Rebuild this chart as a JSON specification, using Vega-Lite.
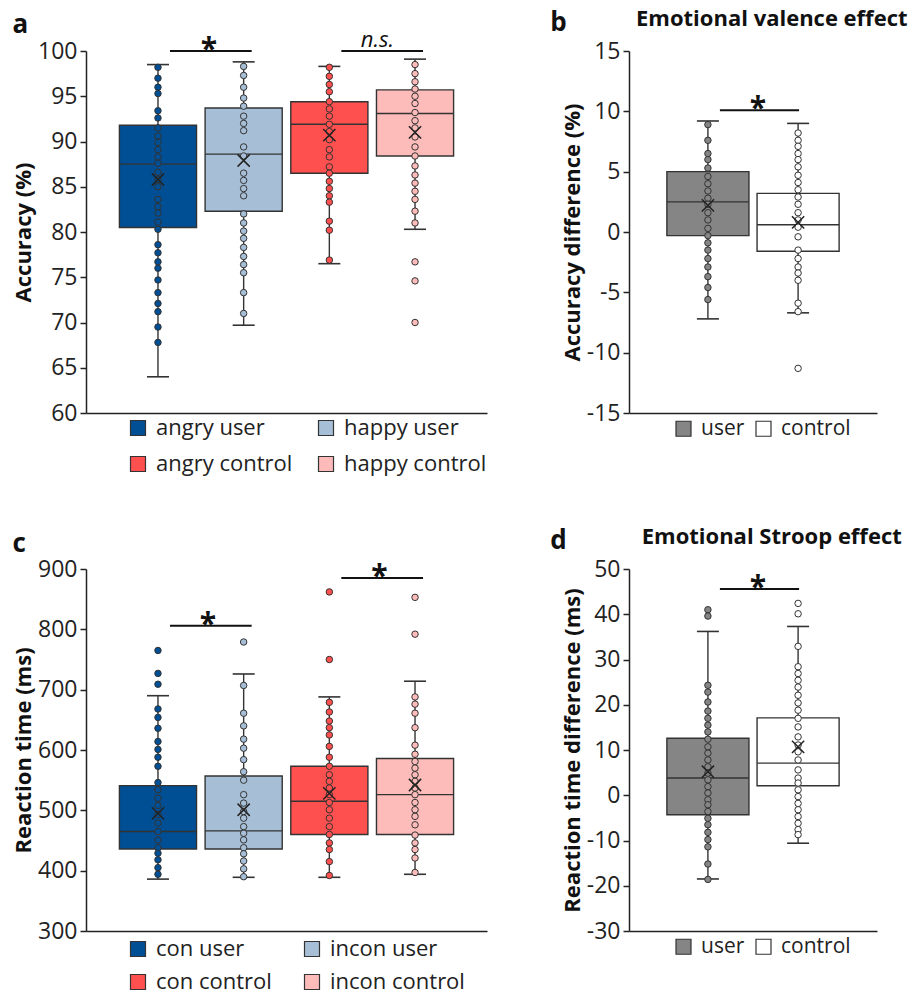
{
  "$schema": "https://vega.github.io/schema/vega-lite/v6.json",
  "background": "white",
  "padding": {"left": 12, "top": 8, "right": 2, "bottom": 10},
  "datasets": {
    "a_pts": [
      {"g":"angry user","v":98.2},{"g":"angry user","v":97.0},{"g":"angry user","v":96.0},{"g":"angry user","v":95.3},{"g":"angry user","v":93.4},{"g":"angry user","v":92.6},{"g":"angry user","v":91.5},{"g":"angry user","v":90.6},{"g":"angry user","v":89.9},{"g":"angry user","v":89.1},{"g":"angry user","v":88.3},{"g":"angry user","v":87.6},{"g":"angry user","v":86.6},{"g":"angry user","v":85.8},{"g":"angry user","v":85.0},{"g":"angry user","v":83.6},{"g":"angry user","v":82.8},{"g":"angry user","v":82.1},{"g":"angry user","v":81.1},{"g":"angry user","v":80.3},{"g":"angry user","v":78.6},{"g":"angry user","v":77.7},{"g":"angry user","v":76.7},{"g":"angry user","v":76.0},{"g":"angry user","v":74.7},{"g":"angry user","v":73.3},{"g":"angry user","v":72.1},{"g":"angry user","v":71.2},{"g":"angry user","v":69.5},{"g":"angry user","v":67.8},
      {"g":"happy user","v":98.3},{"g":"happy user","v":97.3},{"g":"happy user","v":96.0},{"g":"happy user","v":94.8},{"g":"happy user","v":93.9},{"g":"happy user","v":92.8},{"g":"happy user","v":92.0},{"g":"happy user","v":91.2},{"g":"happy user","v":89.4},{"g":"happy user","v":88.4},{"g":"happy user","v":86.5},{"g":"happy user","v":85.7},{"g":"happy user","v":84.8},{"g":"happy user","v":84.0},{"g":"happy user","v":82.0},{"g":"happy user","v":81.0},{"g":"happy user","v":80.1},{"g":"happy user","v":79.3},{"g":"happy user","v":78.3},{"g":"happy user","v":77.3},{"g":"happy user","v":76.4},{"g":"happy user","v":75.5},{"g":"happy user","v":73.3},{"g":"happy user","v":71.0},
      {"g":"angry control","v":98.2},{"g":"angry control","v":97.2},{"g":"angry control","v":96.3},{"g":"angry control","v":95.5},{"g":"angry control","v":94.4},{"g":"angry control","v":93.6},{"g":"angry control","v":92.8},{"g":"angry control","v":91.9},{"g":"angry control","v":91.1},{"g":"angry control","v":90.2},{"g":"angry control","v":89.1},{"g":"angry control","v":88.3},{"g":"angry control","v":87.2},{"g":"angry control","v":86.5},{"g":"angry control","v":85.6},{"g":"angry control","v":84.8},{"g":"angry control","v":84.0},{"g":"angry control","v":83.3},{"g":"angry control","v":81.2},{"g":"angry control","v":80.2},{"g":"angry control","v":76.9},
      {"g":"happy control","v":98.5},{"g":"happy control","v":97.5},{"g":"happy control","v":96.6},{"g":"happy control","v":95.8},{"g":"happy control","v":95.0},{"g":"happy control","v":94.2},{"g":"happy control","v":93.2},{"g":"happy control","v":92.3},{"g":"happy control","v":91.5},{"g":"happy control","v":90.5},{"g":"happy control","v":89.4},{"g":"happy control","v":88.4},{"g":"happy control","v":87.3},{"g":"happy control","v":86.3},{"g":"happy control","v":85.4},{"g":"happy control","v":84.5},{"g":"happy control","v":83.6},{"g":"happy control","v":82.3},{"g":"happy control","v":81.0},{"g":"happy control","v":76.7},{"g":"happy control","v":74.6},{"g":"happy control","v":70.0}
    ],
    "a_box": [
      {"g":"angry user","lo":64.0,"q1":80.5,"med":87.5,"q3":91.8,"hi":98.5,"mean":85.8},
      {"g":"happy user","lo":69.7,"q1":82.3,"med":88.6,"q3":93.7,"hi":98.8,"mean":87.9},
      {"g":"angry control","lo":76.5,"q1":86.5,"med":91.9,"q3":94.4,"hi":98.3,"mean":90.7},
      {"g":"happy control","lo":80.3,"q1":88.4,"med":93.1,"q3":95.7,"hi":99.1,"mean":91.0}
    ],
    "a_sig": [
      {"g1":"angry user","g2":"happy user","y":100,"label":"*"},
      {"g1":"angry control","g2":"happy control","y":100,"label":"n.s."}
    ],
    "b_pts": [
      {"g":"user","v":8.9},{"g":"user","v":7.6},{"g":"user","v":6.5},{"g":"user","v":6.0},{"g":"user","v":5.3},{"g":"user","v":4.6},{"g":"user","v":4.0},{"g":"user","v":3.4},{"g":"user","v":2.8},{"g":"user","v":2.3},{"g":"user","v":1.6},{"g":"user","v":1.0},{"g":"user","v":0.3},{"g":"user","v":-0.3},{"g":"user","v":-0.9},{"g":"user","v":-1.5},{"g":"user","v":-2.2},{"g":"user","v":-2.9},{"g":"user","v":-3.7},{"g":"user","v":-4.6},{"g":"user","v":-5.6},
      {"g":"control","v":8.2},{"g":"control","v":7.6},{"g":"control","v":7.1},{"g":"control","v":6.5},{"g":"control","v":6.0},{"g":"control","v":5.4},{"g":"control","v":4.7},{"g":"control","v":4.1},{"g":"control","v":3.5},{"g":"control","v":2.9},{"g":"control","v":2.3},{"g":"control","v":1.6},{"g":"control","v":1.0},{"g":"control","v":0.4},{"g":"control","v":-0.4},{"g":"control","v":-1.5},{"g":"control","v":-2.2},{"g":"control","v":-2.9},{"g":"control","v":-3.4},{"g":"control","v":-4.0},{"g":"control","v":-5.9},{"g":"control","v":-6.6},{"g":"control","v":-11.3}
    ],
    "b_box": [
      {"g":"user","lo":-7.2,"q1":-0.3,"med":2.5,"q3":5.0,"hi":9.2,"mean":2.2},
      {"g":"control","lo":-6.7,"q1":-1.6,"med":0.6,"q3":3.2,"hi":9.0,"mean":0.8}
    ],
    "b_sig": [{"g1":"user","g2":"control","y":10.1,"label":"*"}],
    "c_pts": [
      {"g":"con user","v":765},{"g":"con user","v":727},{"g":"con user","v":709},{"g":"con user","v":668},{"g":"con user","v":654},{"g":"con user","v":636},{"g":"con user","v":614},{"g":"con user","v":601},{"g":"con user","v":588},{"g":"con user","v":573},{"g":"con user","v":546},{"g":"con user","v":534},{"g":"con user","v":520},{"g":"con user","v":508},{"g":"con user","v":493},{"g":"con user","v":479},{"g":"con user","v":465},{"g":"con user","v":451},{"g":"con user","v":438},{"g":"con user","v":429},{"g":"con user","v":418},{"g":"con user","v":405},{"g":"con user","v":394},
      {"g":"incon user","v":779},{"g":"incon user","v":707},{"g":"incon user","v":661},{"g":"incon user","v":640},{"g":"incon user","v":618},{"g":"incon user","v":603},{"g":"incon user","v":584},{"g":"incon user","v":564},{"g":"incon user","v":550},{"g":"incon user","v":526},{"g":"incon user","v":512},{"g":"incon user","v":498},{"g":"incon user","v":487},{"g":"incon user","v":473},{"g":"incon user","v":462},{"g":"incon user","v":451},{"g":"incon user","v":438},{"g":"incon user","v":428},{"g":"incon user","v":416},{"g":"incon user","v":403},{"g":"incon user","v":390},
      {"g":"con control","v":862},{"g":"con control","v":750},{"g":"con control","v":679},{"g":"con control","v":663},{"g":"con control","v":648},{"g":"con control","v":637},{"g":"con control","v":625},{"g":"con control","v":606},{"g":"con control","v":588},{"g":"con control","v":573},{"g":"con control","v":559},{"g":"con control","v":548},{"g":"con control","v":537},{"g":"con control","v":526},{"g":"con control","v":513},{"g":"con control","v":501},{"g":"con control","v":487},{"g":"con control","v":473},{"g":"con control","v":460},{"g":"con control","v":446},{"g":"con control","v":435},{"g":"con control","v":415},{"g":"con control","v":392},
      {"g":"incon control","v":853},{"g":"incon control","v":792},{"g":"incon control","v":688},{"g":"incon control","v":676},{"g":"incon control","v":661},{"g":"incon control","v":637},{"g":"incon control","v":608},{"g":"incon control","v":593},{"g":"incon control","v":581},{"g":"incon control","v":570},{"g":"incon control","v":559},{"g":"incon control","v":548},{"g":"incon control","v":537},{"g":"incon control","v":526},{"g":"incon control","v":513},{"g":"incon control","v":501},{"g":"incon control","v":490},{"g":"incon control","v":476},{"g":"incon control","v":459},{"g":"incon control","v":446},{"g":"incon control","v":435},{"g":"incon control","v":421},{"g":"incon control","v":397}
    ],
    "c_box": [
      {"g":"con user","lo":386,"q1":436,"med":465,"q3":541,"hi":690,"mean":495},
      {"g":"incon user","lo":389,"q1":436,"med":466,"q3":557,"hi":726,"mean":501},
      {"g":"con control","lo":389,"q1":460,"med":515,"q3":573,"hi":688,"mean":528},
      {"g":"incon control","lo":394,"q1":460,"med":526,"q3":586,"hi":714,"mean":542}
    ],
    "c_sig": [
      {"g1":"con user","g2":"incon user","y":806,"label":"*"},
      {"g1":"con control","g2":"incon control","y":885,"label":"*"}
    ],
    "d_pts": [
      {"g":"user","v":41.0},{"g":"user","v":39.6},{"g":"user","v":24.3},{"g":"user","v":22.8},{"g":"user","v":20.6},{"g":"user","v":18.6},{"g":"user","v":17.0},{"g":"user","v":15.5},{"g":"user","v":14.0},{"g":"user","v":12.4},{"g":"user","v":10.7},{"g":"user","v":9.3},{"g":"user","v":7.8},{"g":"user","v":6.3},{"g":"user","v":4.9},{"g":"user","v":3.4},{"g":"user","v":1.9},{"g":"user","v":0.5},{"g":"user","v":-1.0},{"g":"user","v":-2.1},{"g":"user","v":-3.6},{"g":"user","v":-5.1},{"g":"user","v":-6.5},{"g":"user","v":-8.2},{"g":"user","v":-9.8},{"g":"user","v":-11.4},{"g":"user","v":-15.2},{"g":"user","v":-18.6},
      {"g":"control","v":42.4},{"g":"control","v":40.1},{"g":"control","v":32.9},{"g":"control","v":28.4},{"g":"control","v":26.9},{"g":"control","v":25.4},{"g":"control","v":23.9},{"g":"control","v":22.1},{"g":"control","v":20.4},{"g":"control","v":18.8},{"g":"control","v":17.0},{"g":"control","v":15.1},{"g":"control","v":12.9},{"g":"control","v":11.1},{"g":"control","v":9.6},{"g":"control","v":7.8},{"g":"control","v":5.6},{"g":"control","v":3.8},{"g":"control","v":2.7},{"g":"control","v":1.2},{"g":"control","v":-0.3},{"g":"control","v":-1.8},{"g":"control","v":-3.2},{"g":"control","v":-4.7},{"g":"control","v":-6.2},{"g":"control","v":-7.6},{"g":"control","v":-8.7}
    ],
    "d_box": [
      {"g":"user","lo":-18.5,"q1":-4.3,"med":3.8,"q3":12.6,"hi":36.2,"mean":5.2},
      {"g":"control","lo":-10.6,"q1":2.1,"med":7.1,"q3":17.1,"hi":37.3,"mean":10.7}
    ],
    "d_sig": [{"g1":"user","g2":"control","y":45.6,"label":"*"}]
  },
  "resolve": {"scale": {"fill": "independent", "x": "independent", "y": "independent"}, "legend": {"fill": "independent"}},
  "vconcat": [
    {
      "resolve": {"scale": {"fill": "independent", "x": "independent", "y": "independent"}, "legend": {"fill": "independent"}},
      "hconcat": [
        {
          "width": 401, "height": 362,
          "title": {"text": "a", "anchor": "start", "frame": "bounds", "fontSize": 26, "fontWeight": "bold", "color": "#111", "offset": -9},
          "encoding": {
            "x": {"field": "g", "type": "nominal", "scale": {"domain": ["angry user","happy user","angry control","happy control"], "paddingInner": 0.1, "paddingOuter": 0.39}, "axis": {"labels": false, "ticks": false, "title": null}}
          },
          "layer": [
            {"data": {"name": "a_box"}, "mark": {"type": "rule", "color": "#333", "strokeWidth": 1.4},
             "encoding": {"y": {"field": "lo", "type": "quantitative", "scale": {"domain": [60, 100], "nice": false}, "axis": {"title": "Accuracy (%)", "values": [60,65,70,75,80,85,90,95,100], "labelExpr": "'' + datum.value"}}, "y2": {"field": "hi"}}},
            {"data": {"name": "a_box"}, "mark": {"type": "tick", "size": 22, "thickness": 1.6, "color": "#333", "opacity": 1},
             "encoding": {"y": {"field": "lo", "type": "quantitative"}}},
            {"data": {"name": "a_box"}, "mark": {"type": "tick", "size": 22, "thickness": 1.6, "color": "#333", "opacity": 1},
             "encoding": {"y": {"field": "hi", "type": "quantitative"}}},
            {"data": {"name": "a_box"}, "mark": {"type": "bar", "stroke": "#333", "strokeWidth": 1.4, "opacity": 1},
             "encoding": {"y": {"field": "q1", "type": "quantitative"}, "y2": {"field": "q3"},
               "fill": {"field": "g", "type": "nominal", "scale": {"domain": ["angry user","happy user","angry control","happy control"], "range": ["#004f94","#a7bfd6","#ff5050","#fdbcba"]},
                 "legend": {"title": null, "orient": "none", "legendX": 41, "legendY": 366, "columns": 2, "direction": "horizontal", "columnPadding": 22}}}},
            {"data": {"name": "a_box"}, "mark": {"type": "tick", "size": 77, "thickness": 1.4, "color": "#333", "opacity": 1},
             "encoding": {"y": {"field": "med", "type": "quantitative"}}},
            {"data": {"name": "a_pts"}, "mark": {"type": "point", "shape": "circle", "filled": true, "size": 42, "stroke": "#333", "strokeWidth": 1, "opacity": 1},
             "encoding": {"y": {"field": "v", "type": "quantitative"}, "fill": {"field": "g", "type": "nominal", "legend": {"title": null, "orient": "none", "legendX": 41, "legendY": 366, "columns": 2, "direction": "horizontal", "columnPadding": 22}}}},
            {"data": {"name": "a_box"}, "mark": {"type": "point", "shape": "M-1,-1L1,1M-1,1L1,-1", "filled": false, "size": 150, "stroke": "#222", "strokeWidth": 1.5, "opacity": 1},
             "encoding": {"y": {"field": "mean", "type": "quantitative"}}},
            {"data": {"name": "a_sig"}, "mark": {"type": "rule", "color": "#111", "strokeWidth": 2, "xOffset": 12, "x2Offset": 8},
             "encoding": {"x": {"field": "g1", "type": "nominal"}, "x2": {"field": "g2"}, "y": {"field": "y", "type": "quantitative"}}},
            {"data": {"name": "a_sig"}, "transform": [{"filter": "datum.label === '*'"}], "mark": {"type": "text", "fontSize": 30, "fontWeight": "bold", "color": "#111", "baseline": "alphabetic", "dy": 8, "xOffset": 51},
             "encoding": {"x": {"field": "g1", "type": "nominal"}, "y": {"field": "y", "type": "quantitative"}, "text": {"field": "label"}}},
            {"data": {"name": "a_sig"}, "transform": [{"filter": "datum.label !== '*'"}], "mark": {"type": "text", "fontSize": 22, "fontStyle": "italic", "color": "#111", "baseline": "alphabetic", "dy": -4, "xOffset": 48},
             "encoding": {"x": {"field": "g1", "type": "nominal"}, "y": {"field": "y", "type": "quantitative"}, "text": {"field": "label"}}}
          ]
        },
        {
          "width": 248, "height": 362,
          "title": {"text": "b", "subtitle": "\u200b\u00a0\u00a0\u00a0\u00a0\u00a0\u00a0\u00a0\u00a0\u00a0\u00a0\u00a0\u00a0\u00a0\u00a0\u00a0Emotional valence effect", "anchor": "start", "frame": "bounds", "dx": -11, "fontSize": 26, "fontWeight": "bold", "color": "#111", "subtitleFontSize": 22, "subtitleFontWeight": "bold", "subtitleColor": "#111", "subtitlePadding": -27, "offset": 2},
          "encoding": {
            "x": {"field": "g", "type": "nominal", "scale": {"domain": ["user","control"], "paddingInner": 0.09, "paddingOuter": 0.42}, "axis": {"labels": false, "ticks": false, "title": null}}
          },
          "layer": [
            {"data": {"name": "b_box"}, "mark": {"type": "rule", "color": "#333", "strokeWidth": 1.4},
             "encoding": {"y": {"field": "lo", "type": "quantitative", "scale": {"domain": [-15, 15], "nice": false}, "axis": {"title": "Accuracy difference (%)", "values": [-15,-10,-5,0,5,10,15], "labelExpr": "'' + datum.value"}}, "y2": {"field": "hi"}}},
            {"data": {"name": "b_box"}, "mark": {"type": "tick", "size": 22, "thickness": 1.6, "color": "#333", "opacity": 1},
             "encoding": {"y": {"field": "lo", "type": "quantitative"}}},
            {"data": {"name": "b_box"}, "mark": {"type": "tick", "size": 22, "thickness": 1.6, "color": "#333", "opacity": 1},
             "encoding": {"y": {"field": "hi", "type": "quantitative"}}},
            {"data": {"name": "b_box"}, "mark": {"type": "bar", "stroke": "#333", "strokeWidth": 1.4, "opacity": 1},
             "encoding": {"y": {"field": "q1", "type": "quantitative"}, "y2": {"field": "q3"},
               "fill": {"field": "g", "type": "nominal", "scale": {"domain": ["user","control"], "range": ["#858585","#ffffff"]},
                 "legend": {"title": null, "orient": "none", "legendX": 44, "legendY": 367, "direction": "horizontal", "columnPadding": 8, "labelFontSize": 21}}}},
            {"data": {"name": "b_box"}, "mark": {"type": "tick", "size": 82, "thickness": 1.4, "color": "#333", "opacity": 1},
             "encoding": {"y": {"field": "med", "type": "quantitative"}}},
            {"data": {"name": "b_pts"}, "mark": {"type": "point", "shape": "circle", "filled": true, "size": 42, "stroke": "#333", "strokeWidth": 1, "opacity": 1},
             "encoding": {"y": {"field": "v", "type": "quantitative"}, "fill": {"field": "g", "type": "nominal", "legend": {"title": null, "orient": "none", "legendX": 44, "legendY": 367, "direction": "horizontal", "columnPadding": 8, "labelFontSize": 21}}}},
            {"data": {"name": "b_box"}, "mark": {"type": "point", "shape": "M-1,-1L1,1M-1,1L1,-1", "filled": false, "size": 150, "stroke": "#222", "strokeWidth": 1.5, "opacity": 1},
             "encoding": {"y": {"field": "mean", "type": "quantitative"}}},
            {"data": {"name": "b_sig"}, "mark": {"type": "rule", "color": "#111", "strokeWidth": 2, "xOffset": 12, "x2Offset": 1},
             "encoding": {"x": {"field": "g1", "type": "nominal"}, "x2": {"field": "g2"}, "y": {"field": "y", "type": "quantitative"}}},
            {"data": {"name": "b_sig"}, "mark": {"type": "text", "fontSize": 30, "fontWeight": "bold", "color": "#111", "baseline": "alphabetic", "dy": 8, "xOffset": 50},
             "encoding": {"x": {"field": "g1", "type": "nominal"}, "y": {"field": "y", "type": "quantitative"}, "text": {"field": "label"}}}
          ]
        }
      ],
      "spacing": 63
    },
    {
      "resolve": {"scale": {"fill": "independent", "x": "independent", "y": "independent"}, "legend": {"fill": "independent"}},
      "hconcat": [
        {
          "width": 401, "height": 362,
          "title": {"text": "c", "anchor": "start", "frame": "bounds", "fontSize": 26, "fontWeight": "bold", "color": "#111", "offset": 1},
          "encoding": {
            "x": {"field": "g", "type": "nominal", "scale": {"domain": ["con user","incon user","con control","incon control"], "paddingInner": 0.1, "paddingOuter": 0.39}, "axis": {"labels": false, "ticks": false, "title": null}}
          },
          "layer": [
            {"data": {"name": "c_box"}, "mark": {"type": "rule", "color": "#333", "strokeWidth": 1.4},
             "encoding": {"y": {"field": "lo", "type": "quantitative", "scale": {"domain": [300, 900], "nice": false}, "axis": {"title": "Reaction time (ms)", "values": [300,400,500,600,700,800,900], "labelExpr": "'' + datum.value"}}, "y2": {"field": "hi"}}},
            {"data": {"name": "c_box"}, "mark": {"type": "tick", "size": 22, "thickness": 1.6, "color": "#333", "opacity": 1},
             "encoding": {"y": {"field": "lo", "type": "quantitative"}}},
            {"data": {"name": "c_box"}, "mark": {"type": "tick", "size": 22, "thickness": 1.6, "color": "#333", "opacity": 1},
             "encoding": {"y": {"field": "hi", "type": "quantitative"}}},
            {"data": {"name": "c_box"}, "mark": {"type": "bar", "stroke": "#333", "strokeWidth": 1.4, "opacity": 1},
             "encoding": {"y": {"field": "q1", "type": "quantitative"}, "y2": {"field": "q3"},
               "fill": {"field": "g", "type": "nominal", "scale": {"domain": ["con user","incon user","con control","incon control"], "range": ["#004f94","#a7bfd6","#ff5050","#fdbcba"]},
                 "legend": {"title": null, "orient": "none", "legendX": 41, "legendY": 369, "columns": 2, "direction": "horizontal", "columnPadding": 29, "rowPadding": 11}}}},
            {"data": {"name": "c_box"}, "mark": {"type": "tick", "size": 77, "thickness": 1.4, "color": "#333", "opacity": 1},
             "encoding": {"y": {"field": "med", "type": "quantitative"}}},
            {"data": {"name": "c_pts"}, "mark": {"type": "point", "shape": "circle", "filled": true, "size": 42, "stroke": "#333", "strokeWidth": 1, "opacity": 1},
             "encoding": {"y": {"field": "v", "type": "quantitative"}, "fill": {"field": "g", "type": "nominal", "legend": {"title": null, "orient": "none", "legendX": 41, "legendY": 369, "columns": 2, "direction": "horizontal", "columnPadding": 29, "rowPadding": 11}}}},
            {"data": {"name": "c_box"}, "mark": {"type": "point", "shape": "M-1,-1L1,1M-1,1L1,-1", "filled": false, "size": 150, "stroke": "#222", "strokeWidth": 1.5, "opacity": 1},
             "encoding": {"y": {"field": "mean", "type": "quantitative"}}},
            {"data": {"name": "c_sig"}, "mark": {"type": "rule", "color": "#111", "strokeWidth": 2, "xOffset": 12, "x2Offset": 8},
             "encoding": {"x": {"field": "g1", "type": "nominal"}, "x2": {"field": "g2"}, "y": {"field": "y", "type": "quantitative"}}},
            {"data": {"name": "c_sig"}, "mark": {"type": "text", "fontSize": 30, "fontWeight": "bold", "color": "#111", "baseline": "alphabetic", "dy": 8, "xOffset": 50},
             "encoding": {"x": {"field": "g1", "type": "nominal"}, "y": {"field": "y", "type": "quantitative"}, "text": {"field": "label"}}}
          ]
        },
        {
          "width": 248, "height": 362,
          "title": {"text": "d", "subtitle": "\u200b\u00a0\u00a0\u00a0\u00a0\u00a0\u00a0\u00a0\u00a0\u00a0\u00a0\u00a0\u00a0\u00a0\u00a0\u00a0\u00a0Emotional Stroop effect", "anchor": "start", "frame": "bounds", "dx": -11, "fontSize": 26, "fontWeight": "bold", "color": "#111", "subtitleFontSize": 22, "subtitleFontWeight": "bold", "subtitleColor": "#111", "subtitlePadding": -27, "offset": 2},
          "encoding": {
            "x": {"field": "g", "type": "nominal", "scale": {"domain": ["user","control"], "paddingInner": 0.09, "paddingOuter": 0.42}, "axis": {"labels": false, "ticks": false, "title": null}}
          },
          "layer": [
            {"data": {"name": "d_box"}, "mark": {"type": "rule", "color": "#333", "strokeWidth": 1.4},
             "encoding": {"y": {"field": "lo", "type": "quantitative", "scale": {"domain": [-30, 50], "nice": false}, "axis": {"title": "Reaction time difference (ms)", "values": [-30,-20,-10,0,10,20,30,40,50], "labelExpr": "'' + datum.value"}}, "y2": {"field": "hi"}}},
            {"data": {"name": "d_box"}, "mark": {"type": "tick", "size": 22, "thickness": 1.6, "color": "#333", "opacity": 1},
             "encoding": {"y": {"field": "lo", "type": "quantitative"}}},
            {"data": {"name": "d_box"}, "mark": {"type": "tick", "size": 22, "thickness": 1.6, "color": "#333", "opacity": 1},
             "encoding": {"y": {"field": "hi", "type": "quantitative"}}},
            {"data": {"name": "d_box"}, "mark": {"type": "bar", "stroke": "#333", "strokeWidth": 1.4, "opacity": 1},
             "encoding": {"y": {"field": "q1", "type": "quantitative"}, "y2": {"field": "q3"},
               "fill": {"field": "g", "type": "nominal", "scale": {"domain": ["user","control"], "range": ["#858585","#ffffff"]},
                 "legend": {"title": null, "orient": "none", "legendX": 44, "legendY": 367, "direction": "horizontal", "columnPadding": 8, "labelFontSize": 21}}}},
            {"data": {"name": "d_box"}, "mark": {"type": "tick", "size": 82, "thickness": 1.4, "color": "#333", "opacity": 1},
             "encoding": {"y": {"field": "med", "type": "quantitative"}}},
            {"data": {"name": "d_pts"}, "mark": {"type": "point", "shape": "circle", "filled": true, "size": 42, "stroke": "#333", "strokeWidth": 1, "opacity": 1},
             "encoding": {"y": {"field": "v", "type": "quantitative"}, "fill": {"field": "g", "type": "nominal", "legend": {"title": null, "orient": "none", "legendX": 44, "legendY": 367, "direction": "horizontal", "columnPadding": 8, "labelFontSize": 21}}}},
            {"data": {"name": "d_box"}, "mark": {"type": "point", "shape": "M-1,-1L1,1M-1,1L1,-1", "filled": false, "size": 150, "stroke": "#222", "strokeWidth": 1.5, "opacity": 1},
             "encoding": {"y": {"field": "mean", "type": "quantitative"}}},
            {"data": {"name": "d_sig"}, "mark": {"type": "rule", "color": "#111", "strokeWidth": 2, "xOffset": 12, "x2Offset": 1},
             "encoding": {"x": {"field": "g1", "type": "nominal"}, "x2": {"field": "g2"}, "y": {"field": "y", "type": "quantitative"}}},
            {"data": {"name": "d_sig"}, "mark": {"type": "text", "fontSize": 30, "fontWeight": "bold", "color": "#111", "baseline": "alphabetic", "dy": 8, "xOffset": 50},
             "encoding": {"x": {"field": "g1", "type": "nominal"}, "y": {"field": "y", "type": "quantitative"}, "text": {"field": "label"}}}
          ]
        }
      ],
      "spacing": 63
    }
  ],
  "spacing": 51,
  "config": {
    "font": "Open Sans",
    "view": {"stroke": null},
    "axis": {"grid": false, "domainColor": "#222", "domainWidth": 1.5, "tickColor": "#222", "tickWidth": 1.5, "tickSize": 6, "labelFontSize": 23, "labelColor": "#222", "labelPadding": 3, "titleFontSize": 22, "titleFontWeight": "bold", "titleColor": "#111", "titlePadding": 2},
    "legend": {"labelFontSize": 22, "labelColor": "#222", "symbolType": "square", "symbolSize": 225, "symbolStrokeColor": "#333", "symbolStrokeWidth": 1.2, "labelOffset": 7, "rowPadding": 14, "padding": 0, "symbolOpacity": 1}
  }
}
